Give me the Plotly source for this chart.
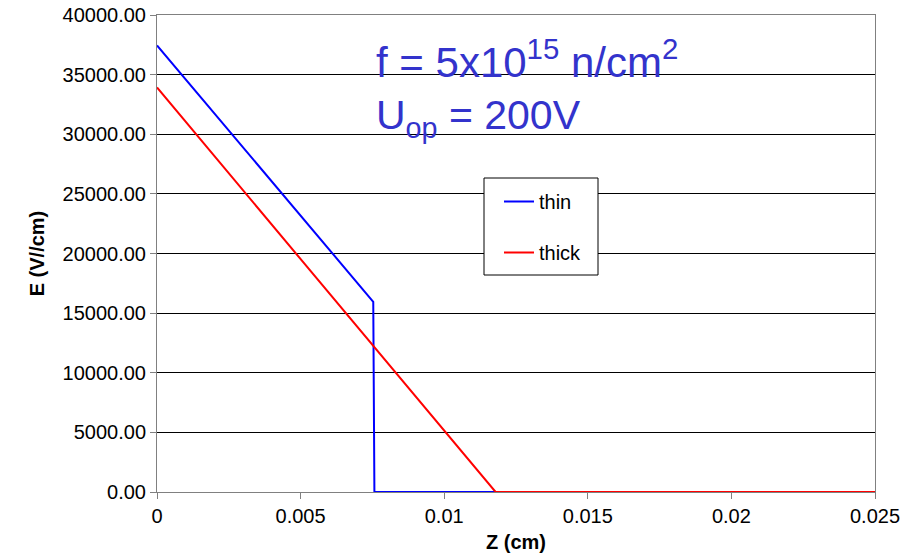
import plotly.graph_objects as go

# Data
z_thin = [0.0, 0.00753, 0.00757, 0.025]
e_thin = [37450, 15950, 0, 0]
z_thick = [0.0, 0.01179, 0.025]
e_thick = [33920, 0, 0]

x_ticks = [0, 0.005, 0.01, 0.015, 0.02, 0.025]
x_ticklabels = ["0", "0.005", "0.01", "0.015", "0.02", "0.025"]
y_ticks = [0, 5000, 10000, 15000, 20000, 25000, 30000, 35000, 40000]

FONT = "Liberation Sans, Arial, sans-serif"
L, R, T, B = 157, 875, 15, 492
PW, PH = R - L, B - T

fig = go.Figure()
fig.add_trace(go.Scatter(x=z_thin, y=e_thin, mode="lines", name="thin",
                         line=dict(color="#0000FF", width=2), legendgroup="a"))
fig.add_trace(go.Scatter(x=z_thick, y=e_thick, mode="lines", name="thick",
                         line=dict(color="#FF0000", width=2), legendgroup="b"))

# legend frame
fig.add_shape(type="rect", xref="paper", yref="paper",
              x0=(484 - L) / PW, x1=(598 - L) / PW,
              y0=(B - 275) / PH, y1=(B - 178) / PH,
              line=dict(color="black", width=1), fillcolor="white", layer="above")

fig.update_layout(
    width=912, height=556,
    margin=dict(l=L, r=912 - R, t=T, b=556 - B, autoexpand=False),
    paper_bgcolor="white", plot_bgcolor="white",
    font=dict(family=FONT, size=20, color="black"),
    showlegend=True,
    legend=dict(x=(499 - L) / PW, y=(B - 182) / PH, xanchor="left", yanchor="top",
                borderwidth=0, bgcolor="rgba(0,0,0,0)",
                font=dict(size=20), tracegroupgap=22, traceorder="grouped",
                itemwidth=30),
    xaxis=dict(range=[0, 0.025], tickvals=x_ticks, ticktext=x_ticklabels,
               showgrid=False, zeroline=False, showline=True, linecolor="#808080",
               mirror=True, ticks="outside", ticklen=6, tickcolor="#808080",
               automargin=False,
               title=dict(text="<b>Z (cm)</b>", font=dict(size=20), standoff=8)),
    yaxis=dict(range=[0, 40000], tickvals=y_ticks, tickformat=".2f",
               showgrid=True, gridcolor="black", gridwidth=1, zeroline=False,
               showline=True, linecolor="#808080", mirror=True,
               ticks="outside", ticklen=6, tickcolor="#808080",
               automargin=False,
               title=dict(text="<b>E (V//cm)</b>", font=dict(size=20), standoff=12)),
)

fig.add_annotation(xref="paper", yref="paper", x=(374 - L) / PW, y=(B - 59) / PH,
                   xanchor="left", yanchor="middle", showarrow=False,
                   text="f = 5x10<sup>15</sup> n/cm<sup>2</sup>",
                   font=dict(size=42, color="#3333CC", family=FONT))
fig.add_annotation(xref="paper", yref="paper", x=(374 - L) / PW, y=(B - 118) / PH,
                   xanchor="left", yanchor="middle", showarrow=False,
                   text="U<sub>op</sub> = 200V",
                   font=dict(size=41, color="#3333CC", family=FONT))

fig.write_html("out.html", config={"displayModeBar": False},
               post_script="document.body.style.margin='0';")
